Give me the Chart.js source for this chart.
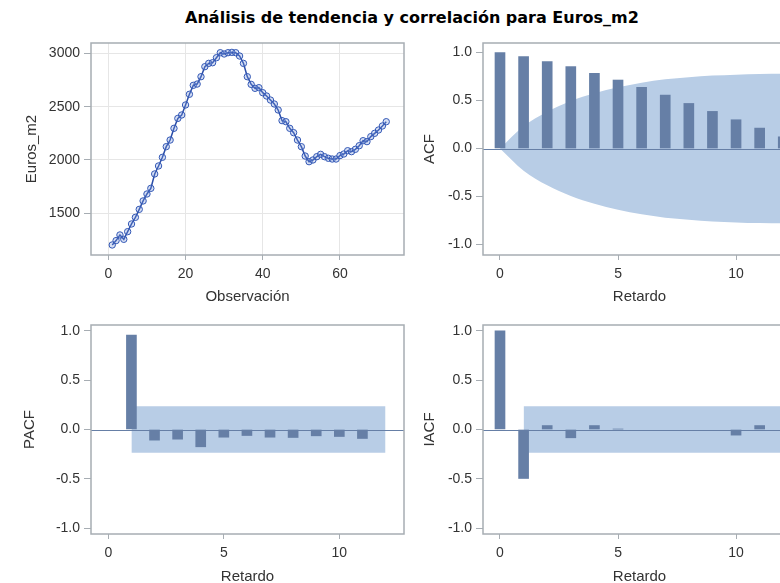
<!DOCTYPE html>
<html>
<head>
<meta charset="utf-8">
<script src="https://cdn.jsdelivr.net/npm/chart.js@4.4.1/dist/chart.umd.min.js"></script>
<style>
  html, body { margin: 0; padding: 0; overflow: hidden; background: #fff; width: 780px; height: 583px; }
  #wrap { position: relative; width: 830px; height: 600px; }
  #title { position: absolute; left: 0; top: 8px; width: 824px; text-align: center;
           font: bold 16px "DejaVu Sans", sans-serif; color: #000; }
  canvas { position: absolute; }
</style>
</head>
<body>
<div id="wrap">
  <div id="title">Análisis de tendencia y correlación para Euros_m2</div>
  <canvas id="serie" width="415" height="285" style="left:0;top:30px"></canvas>
  <canvas id="acf" width="410" height="285" style="left:400px;top:30px"></canvas>
  <canvas id="pacf" width="415" height="283" style="left:0;top:310px"></canvas>
  <canvas id="iacf" width="410" height="283" style="left:400px;top:310px"></canvas>
</div>
<script>
// Serie Euros_m2 (observaciones 1..72)
const observaciones = [];
for (let i = 1; i <= 72; i++) observaciones.push(i);
const eurosM2 = [
  1203, 1244, 1297, 1256, 1328, 1400, 1462, 1537, 1616, 1681,
  1734, 1869, 1944, 2025, 2125, 2187, 2297, 2390, 2422, 2516,
  2616, 2700, 2712, 2781, 2875, 2906, 2912, 2959, 3006, 2994,
  3006, 3009, 3006, 2975, 2906, 2781, 2709, 2672, 2678, 2631,
  2600, 2562, 2525, 2469, 2369, 2359, 2297, 2256, 2187, 2125,
  2037, 1984, 2000, 2031, 2053, 2031, 2016, 2009, 2009, 2041,
  2056, 2087, 2078, 2100, 2134, 2181, 2172, 2219, 2250, 2281,
  2319, 2359
];

// Retardos y correlaciones
const retardosAcf = [0, 1, 2, 3, 4, 5, 6, 7, 8, 9, 10, 11, 12];
const acf = [1.0, 0.958, 0.906, 0.854, 0.784, 0.714, 0.638, 0.557, 0.470, 0.387, 0.300, 0.213, 0.122];
const acfBandaSup = [0, 0.231, 0.383, 0.495, 0.575, 0.638, 0.686, 0.721, 0.742, 0.760, 0.770, 0.777, 0.780];
const acfBandaInf = [0, -0.231, -0.383, -0.495, -0.575, -0.638, -0.686, -0.721, -0.742, -0.760, -0.770, -0.777, -0.780];

const retardosPacf = [1, 2, 3, 4, 5, 6, 7, 8, 9, 10, 11, 12];
const pacf = [0.955, -0.108, -0.098, -0.175, -0.078, -0.061, -0.078, -0.081, -0.064, -0.071, -0.091, null];

const retardosIacf = [0, 1, 2, 3, 4, 5, 6, 7, 8, 9, 10, 11, 12];
const iacf = [1.0, -0.496, 0.040, -0.084, 0.040, 0.004, null, null, null, null, -0.057, 0.040, null];

// Bandas de confianza (PACF / IACF)
const bandaRetardos = [1, 12];
const bandaSup = [0.235, 0.235];
const bandaInf = [-0.235, -0.235];

const ticksSerieX = [0, 20, 40, 60];
const ticksSerieY = [1500, 2000, 2500, 3000];
const ticksRetardo = [0, 5, 10];
const ticksCorr = [-1.0, -0.5, 0.0, 0.5, 1.0];

const COLOR_BARRA = '#667fa6';
const COLOR_BANDA = '#b8cde6';
const COLOR_MARCO = '#a7adb3';
const COLOR_TEXTO = '#333333';
const FUENTE = '"Liberation Sans", Arial, sans-serif';

Chart.defaults.font.family = FUENTE;
Chart.defaults.color = COLOR_TEXTO;

const pts = (xs, ys) => xs.map((x, i) => ({ x: x, y: ys[i] }));

// Marco alrededor del área del gráfico
const marcoPlugin = {
  id: 'marco',
  afterDraw(chart) {
    const { ctx, chartArea: a } = chart;
    ctx.save();
    ctx.strokeStyle = COLOR_MARCO;
    ctx.lineWidth = 1.5;
    ctx.strokeRect(a.left, a.top, a.right - a.left, a.bottom - a.top);
    ctx.restore();
  }
};
// Línea de referencia en cero
const ceroPlugin = {
  id: 'cero',
  afterDatasetsDraw(chart) {
    const { ctx, chartArea: a, scales: { y } } = chart;
    const py = Math.round(y.getPixelForValue(0)) + 0.5;
    ctx.save();
    ctx.strokeStyle = COLOR_BARRA;
    ctx.lineWidth = 1;
    ctx.beginPath();
    ctx.moveTo(a.left, py);
    ctx.lineTo(a.right, py);
    ctx.stroke();
    ctx.restore();
  }
};

function ejeX(min, max, ticks, titulo, alto, rejilla) {
  return {
    type: 'linear', min: min, max: max, offset: false,
    afterBuildTicks: s => { s.ticks = ticks.map(v => ({ value: v })); },
    afterFit: s => { s.height = alto; },
    grid: { offset: false, drawOnChartArea: rejilla, color: '#e6e6e6', tickColor: COLOR_MARCO, tickLength: 5 },
    border: { display: false },
    ticks: { font: { size: 14 }, padding: 6, maxRotation: 0 },
    title: { display: true, text: titulo, font: { size: 15 }, color: COLOR_TEXTO }
  };
}
function ejeY(min, max, ticks, titulo, ancho, rejilla, fmt) {
  return {
    type: 'linear', min: min, max: max,
    afterBuildTicks: s => { s.ticks = ticks.map(v => ({ value: v })); },
    afterFit: s => { s.width = ancho; },
    grid: { drawOnChartArea: rejilla, color: '#e6e6e6', tickColor: COLOR_MARCO, tickLength: 7 },
    border: { display: false },
    ticks: { font: { size: 14 }, padding: 4, callback: fmt },
    title: { display: true, text: titulo, font: { size: 15 }, color: COLOR_TEXTO }
  };
}
const fmtCorr = v => v.toFixed(1);

const comunes = {
  responsive: false,
  animation: false,
  devicePixelRatio: 1,
  plugins: { legend: { display: false }, tooltip: { enabled: false } }
};

// Serie temporal
new Chart(document.getElementById('serie'), {
  type: 'line',
  data: {
    datasets: [{
      data: pts(observaciones, eurosM2),
      borderColor: '#2a4da8',
      borderWidth: 1.5,
      backgroundColor: 'rgba(120,150,220,0.3)',
      pointBorderColor: '#3358b5',
      pointBorderWidth: 1,
      pointRadius: 3.2,
      tension: 0
    }]
  },
  options: {
    ...comunes,
    layout: { padding: { left: 19, top: 13, right: 11, bottom: 5 } },
    scales: {
      x: ejeX(-4.5, 76.6, ticksSerieX, 'Observación', 55, true),
      y: ejeY(1109, 3097, ticksSerieY, 'Euros_m2', 72, true, v => String(v))
    }
  },
  plugins: [marcoPlugin]
});

function graficoCorr(id, retardos, valores, bandaX, sup, inf, titulo, pad, anchoY, altoX, xmin, xmax, ymin, ymax) {
  new Chart(document.getElementById(id), {
    type: 'bar',
    data: {
      datasets: [
        {
          type: 'bar', order: 0,
          data: pts(retardos, valores),
          backgroundColor: COLOR_BARRA,
          barThickness: 10
        },
        {
          type: 'line', order: 1,
          data: pts(bandaX, sup),
          borderWidth: 0, pointRadius: 0,
          backgroundColor: COLOR_BANDA,
          fill: '+1',
          cubicInterpolationMode: 'monotone'
        },
        {
          type: 'line', order: 2,
          data: pts(bandaX, inf),
          borderWidth: 0, pointRadius: 0,
          backgroundColor: COLOR_BANDA,
          fill: false,
          cubicInterpolationMode: 'monotone'
        }
      ]
    },
    options: {
      ...comunes,
      layout: { padding: pad },
      scales: {
        x: ejeX(xmin, xmax, ticksRetardo, 'Retardo', altoX, false),
        y: ejeY(ymin, ymax, ticksCorr, titulo, anchoY, false, fmtCorr)
      }
    },
    plugins: [ceroPlugin, marcoPlugin]
  });
}

graficoCorr('acf', retardosAcf, acf, retardosAcf, acfBandaSup, acfBandaInf, 'ACF',
  { left: 17, top: 13, right: 14, bottom: 5 }, 66, 55, -0.72, 12.54, -1.11, 1.10);
graficoCorr('pacf', retardosPacf, pacf, bandaRetardos, bandaSup, bandaInf, 'PACF',
  { left: 17, top: 15, right: 11, bottom: 3 }, 74, 56, -0.75, 12.8, -1.058, 1.058);
graficoCorr('iacf', retardosIacf, iacf, bandaRetardos, bandaSup, bandaInf, 'IACF',
  { left: 17, top: 15, right: 14, bottom: 3 }, 66, 56, -0.72, 12.54, -1.058, 1.058);
</script>
</body>
</html>
